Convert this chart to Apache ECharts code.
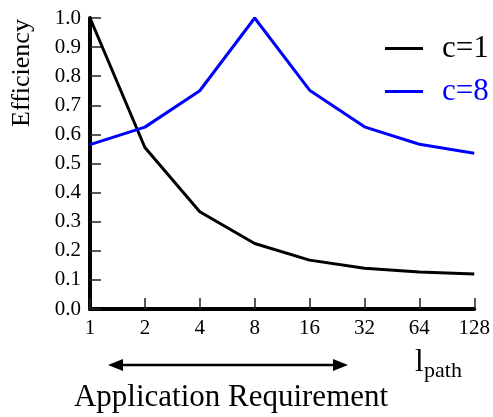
<!DOCTYPE html>
<html>
<head>
<meta charset="utf-8">
<script src="https://cdn.jsdelivr.net/npm/echarts@6/dist/echarts.min.js"></script>
<style>html,body{margin:0;padding:0;background:#fff}#c{width:493px;height:417px}</style>
</head>
<body>
<div id="c"></div>
<script>
var categories = ['1', '2', '4', '8', '16', '32', '64', '128'];
var seriesNames = ['c=1', 'c=8'];
var c1Values = [1.0, 0.555, 0.334, 0.225, 0.168, 0.140, 0.127, 0.120];
var c8Values = [0.565, 0.625, 0.750, 1.0, 0.752, 0.626, 0.566, 0.535];
var yTicks = [0, 0.1, 0.2, 0.3, 0.4, 0.5, 0.6, 0.7, 0.8, 0.9, 1.0];

var SERIF = 'Liberation Serif';
var chart = echarts.init(document.getElementById('c'));
chart.setOption({
  animation: false,
  backgroundColor: '#fff',
  grid: { left: 90, right: 15, top: 18, bottom: 108, containLabel: false },
  legend: {
    orient: 'vertical',
    left: 380,
    top: 28,
    icon: 'rect',
    itemWidth: 38,
    itemHeight: 3,
    itemGap: 12,
    textStyle: { fontFamily: SERIF, fontSize: 31, padding: [0, 0, 0, 14] },
    data: [
      { name: seriesNames[0], textStyle: { color: '#000' } },
      { name: seriesNames[1], textStyle: { color: '#0000ff' } }
    ]
  },
  xAxis: {
    type: 'category',
    data: categories,
    boundaryGap: false,
    axisLine: { lineStyle: { color: '#000', width: 4 } },
    axisTick: { inside: true, length: 11, alignWithLabel: true, lineStyle: { color: '#222', width: 1.5 } },
    axisLabel: { color: '#000', fontFamily: SERIF, fontSize: 21, margin: 9 },
    splitLine: { show: false }
  },
  yAxis: {
    type: 'value',
    min: 0,
    max: 1,
    interval: 0.1,
    axisLine: { show: true, lineStyle: { color: '#000', width: 4 } },
    axisTick: { show: true, inside: true, length: 11, lineStyle: { color: '#222', width: 1.5 } },
    axisLabel: {
      color: '#000', fontFamily: SERIF, fontSize: 21, margin: 9,
      formatter: function (v) { return v.toFixed(1); }
    },
    splitLine: { show: false }
  },
  series: [
    {
      name: seriesNames[0], type: 'line', data: c1Values, symbol: 'none',
      lineStyle: { color: '#000', width: 3 }, itemStyle: { color: '#000' }
    },
    {
      name: seriesNames[1], type: 'line', data: c8Values, symbol: 'none',
      lineStyle: { color: '#0000ff', width: 3 }, itemStyle: { color: '#0000ff' }
    }
  ],
  graphic: [
    { type: 'text', x: 22, y: 73, rotation: Math.PI / 2,
      style: { text: 'Efficiency', font: '26px "Liberation Serif"', fill: '#000', align: 'center', verticalAlign: 'middle' } },
    { type: 'line', shape: { x1: 116, y1: 365, x2: 340, y2: 365 }, style: { stroke: '#000', lineWidth: 2.5 } },
    { type: 'polygon', shape: { points: [[108, 365], [123, 359], [123, 371]] }, style: { fill: '#000' } },
    { type: 'polygon', shape: { points: [[348, 365], [333, 359], [333, 371]] }, style: { fill: '#000' } },
    { type: 'text', x: 415, y: 363,
      style: { text: 'l', font: '31px "Liberation Serif"', fill: '#000', align: 'left', verticalAlign: 'middle' } },
    { type: 'text', x: 424, y: 371,
      style: { text: 'path', font: '22px "Liberation Serif"', fill: '#000', align: 'left', verticalAlign: 'middle' } },
    { type: 'text', x: 231, y: 398,
      style: { text: 'Application Requirement', font: '31px "Liberation Serif"', fill: '#000', align: 'center', verticalAlign: 'middle' } }
  ]
});
</script>
</body>
</html>
